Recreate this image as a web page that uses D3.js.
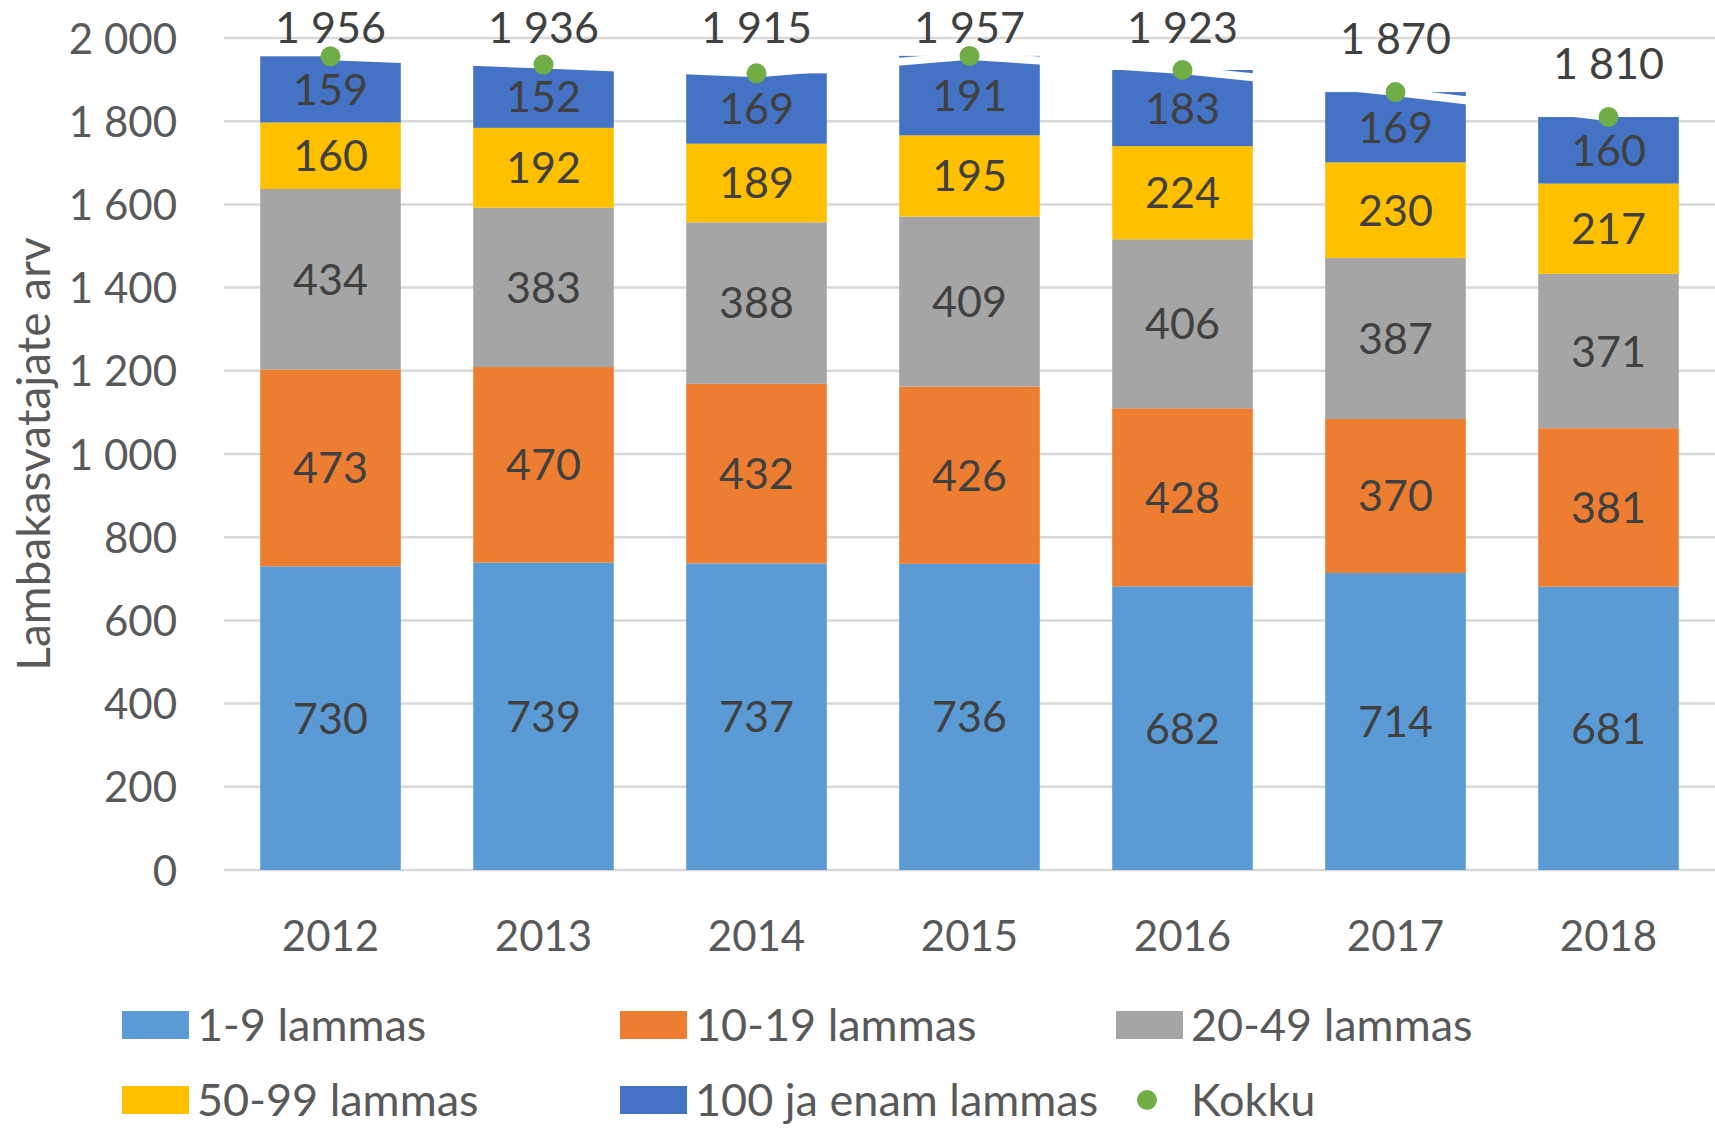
<!DOCTYPE html>
<html>
<head>
<meta charset="utf-8">
<script src="https://cdn.jsdelivr.net/npm/d3@7"></script>
<style>
  html, body { margin: 0; padding: 0; background: #ffffff; }
  svg { display: block; font-family: Lato, "Open Sans", sans-serif; }
</style>
</head>
<body>
<div id="chart"></div>
<script>
// Data
var years = ["2012", "2013", "2014", "2015", "2016", "2017", "2018"];
var seriesNames = ["1-9 lammas", "10-19 lammas", "20-49 lammas", "50-99 lammas", "100 ja enam lammas"];
var s1to9 = [730, 739, 737, 736, 682, 714, 681];
var s10to19 = [473, 470, 432, 426, 428, 370, 381];
var s20to49 = [434, 383, 388, 409, 406, 387, 371];
var s50to99 = [160, 192, 189, 195, 224, 230, 217];
var s100plus = [159, 152, 169, 191, 183, 169, 160];
var kokku = [1956, 1936, 1915, 1957, 1923, 1870, 1810];
var yTicks = [0, 200, 400, 600, 800, 1000, 1200, 1400, 1600, 1800, 2000];

var colors = ["#5B9BD5", "#ED7D31", "#A5A5A5", "#FFC000", "#4472C4"];
var totalColor = "#70AD47";

var width = 1715, height = 1129;
var margin = {left: 224, right: 0, top: 38, bottom: 259};

var svg = d3.select("#chart").append("svg")
    .attr("width", width)
    .attr("height", height);

svg.append("rect").attr("width", width).attr("height", height).attr("fill", "#ffffff");

var x = d3.scaleBand()
    .domain(years)
    .range([margin.left, width - margin.right])
    .paddingInner(0.34)
    .paddingOuter(0.17);

var y = d3.scaleLinear()
    .domain([0, 2000])
    .range([height - margin.bottom, margin.top]);

var locale = d3.formatLocale({decimal: ",", thousands: "\u00a0", grouping: [3], currency: ["", ""]});
var fmt = locale.format(",d");

// gridlines
svg.append("g")
    .selectAll("line")
    .data(yTicks)
    .join("line")
    .attr("x1", margin.left)
    .attr("x2", width - margin.right)
    .attr("y1", function(d) { return y(d); })
    .attr("y2", function(d) { return y(d); })
    .attr("stroke", "#D9D9D9")
    .attr("stroke-width", 2.5);

// y axis labels (axis line hidden, only text kept)
var yAxis = svg.append("g")
    .attr("transform", "translate(" + (margin.left - 47) + ",0)")
    .call(d3.axisLeft(y).tickValues(yTicks).tickFormat(fmt).tickSize(0).tickPadding(0));
yAxis.select(".domain").remove();
yAxis.selectAll("text")
    .attr("fill", "#595959")
    .attr("font-size", 42)
    .attr("font-family", "Lato, 'Open Sans', sans-serif")
    .attr("dy", "0.36em");

// x axis labels
var xAxis = svg.append("g")
    .attr("transform", "translate(0," + (height - margin.bottom) + ")")
    .call(d3.axisBottom(x).tickSize(0).tickPadding(0));
xAxis.select(".domain").remove();
xAxis.selectAll("text")
    .attr("fill", "#595959")
    .attr("font-size", 42)
    .attr("font-family", "Lato, 'Open Sans', sans-serif")
    .attr("dy", "1.92em");

// y axis title
svg.append("text")
    .attr("transform", "translate(33," + 454 + ") rotate(-90)")
    .attr("text-anchor", "middle")
    .attr("dy", "0.36em")
    .attr("fill", "#595959")
    .attr("font-size", 46)
    .text("Lambakasvatajate arv");

// stacked bars
var seriesValues = [s1to9, s10to19, s20to49, s50to99, s100plus];
var rows = years.map(function(yr, i) {
    var r = {year: yr};
    seriesNames.forEach(function(n, k) { r[n] = seriesValues[k][i]; });
    return r;
});
var stacked = d3.stack().keys(seriesNames)(rows);

var layers = svg.append("g")
    .selectAll("g")
    .data(stacked)
    .join("g")
    .attr("fill", function(d, k) { return colors[k]; });

layers.selectAll("rect")
    .data(function(d) { return d; })
    .join("rect")
    .attr("x", function(d) { return x(d.data.year); })
    .attr("width", x.bandwidth())
    .attr("y", function(d) { return y(d[1]); })
    .attr("height", function(d) { return y(d[0]) - y(d[1]); });

// Kokku series: white line joining the points (it eats into the bar tops)
var line = d3.line()
    .x(function(d, i) { return x(years[i]) + x.bandwidth() / 2; })
    .y(function(d) { return y(d); });

svg.append("path")
    .datum(kokku)
    .attr("d", line)
    .attr("fill", "none")
    .attr("stroke", "#ffffff")
    .attr("stroke-width", 8);

// segment labels
layers.selectAll("text")
    .data(function(d) { return d; })
    .join("text")
    .attr("x", function(d) { return x(d.data.year) + x.bandwidth() / 2; })
    .attr("y", function(d) { return (y(d[0]) + y(d[1])) / 2; })
    .attr("dy", "0.36em")
    .attr("text-anchor", "middle")
    .attr("fill", "#404040")
    .attr("font-size", 43)
    .text(function(d) { return fmt(d[1] - d[0]); });

// total points
svg.append("g")
    .selectAll("circle")
    .data(kokku)
    .join("circle")
    .attr("cx", function(d, i) { return x(years[i]) + x.bandwidth() / 2; })
    .attr("cy", function(d) { return y(d); })
    .attr("r", 10)
    .attr("fill", totalColor);

// total labels, kept inside the chart top like Excel does
svg.append("g")
    .selectAll("text")
    .data(kokku)
    .join("text")
    .attr("x", function(d, i) { return x(years[i]) + x.bandwidth() / 2; })
    .attr("y", function(d) { return Math.max(y(d) - 54, 28); })
    .attr("dy", "0.36em")
    .attr("text-anchor", "middle")
    .attr("fill", "#404040")
    .attr("font-size", 43)
    .text(function(d) { return fmt(d); });

// legend
var legendItems = seriesNames.map(function(n, k) { return {name: n, color: colors[k], type: "rect"}; });
legendItems.push({name: "Kokku", color: totalColor, type: "dot"});
var legendCols = [122, 620, 1116];
var legendRows = [1025, 1100];

var legend = svg.append("g")
    .selectAll("g")
    .data(legendItems)
    .join("g")
    .attr("transform", function(d, i) {
        return "translate(" + legendCols[i % 3] + "," + legendRows[Math.floor(i / 3)] + ")";
    });

legend.filter(function(d) { return d.type === "rect"; })
    .append("rect")
    .attr("x", 0)
    .attr("y", -14)
    .attr("width", 67)
    .attr("height", 28)
    .attr("fill", function(d) { return d.color; });

legend.filter(function(d) { return d.type === "dot"; })
    .append("circle")
    .attr("cx", 31)
    .attr("cy", 0)
    .attr("r", 10)
    .attr("fill", function(d) { return d.color; });

legend.append("text")
    .attr("x", 75)
    .attr("y", 0)
    .attr("dy", "0.36em")
    .attr("fill", "#595959")
    .attr("font-size", 45)
    .text(function(d) { return d.name; });
</script>
</body>
</html>
